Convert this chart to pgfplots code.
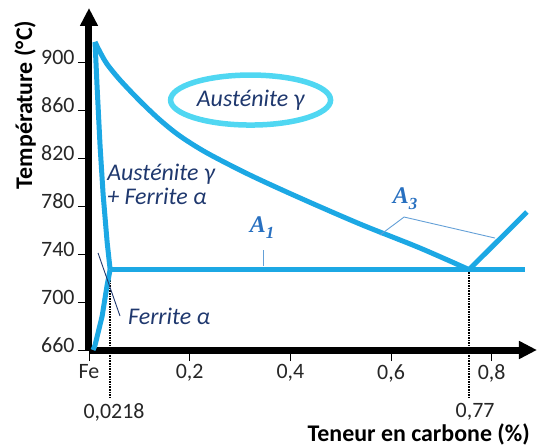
\documentclass[border=0pt]{standalone}
\usepackage{fontspec}
\setmainfont{Carlito}
\newfontfamily\serifA{Liberation Serif}
\usepackage{pgfplots}
\pgfplotsset{compat=1.18}
\usetikzlibrary{arrows.meta}
\definecolor{cur}{RGB}{28,168,228}
\definecolor{ell}{RGB}{80,215,242}
\definecolor{navy}{RGB}{31,56,110}
\definecolor{ablue}{RGB}{40,112,192}
\definecolor{ptr}{RGB}{100,160,215}
\begin{document}
\begin{tikzpicture}
\begin{axis}[
  scale only axis, width=448bp, height=342bp,
  xmin=0, xmax=0.89, ymin=660, ymax=945,
  axis lines=left,
  axis line style={line width=7bp, black, -{Triangle[width=17bp,length=18bp]}},
  clip=false,
  tick align=outside, major tick length=11bp,
  tick style={line width=0.8bp, black},
  xtick={0,0.2,0.4,0.6,0.8},
  xticklabels={Fe,{0,2},{0,4},{0,6},{0,8}},
  ytick={660,700,740,780,820,860,900},
  yticklabels={660,700,740,780,820,860,900},
  ticklabel style={font=\fontsize{22}{26}\selectfont, text=black!85},
  yticklabel style={yshift=5bp},
]
\coordinate (O) at (axis cs:0,660);
% dotted reference lines
\addplot[black, line width=1.6bp, densely dotted] coordinates {(0.042,727) (0.042,620)};
\addplot[black, line width=1.6bp, densely dotted] coordinates {(0.755,727) (0.755,620)};
% A1 line
\addplot[cur, line width=5bp] coordinates {(0.042,727) (0.866,727)};
% A3 curve
\addplot[cur, line width=5bp, smooth, line join=round] coordinates {
 (0.0119,916.7) (0.0219,908.3) (0.0358,898.3) (0.0616,885) (0.1013,867.5)
 (0.141,851.7) (0.1808,838.3) (0.2344,824.2) (0.3198,805.8) (0.4192,786.7)
 (0.5383,765) (0.6575,745) (0.755,727)};
% left branch alpha+gamma / gamma
\addplot[cur, line width=5bp, line join=round] coordinates {
 (0.012,916.7) (0.016,880) (0.022,830) (0.028,790) (0.036,750) (0.042,727)};
% ferrite solvus
\addplot[cur, line width=5bp, line join=round] coordinates {
 (0.042,727) (0.036,714) (0.026,688) (0.012,664) (0.008,660)};
% Acm line
\addplot[cur, line width=5bp] coordinates {(0.755,727) (0.870,775)};
% ellipse + labels
\draw[ell, line width=5.5bp] (axis cs:0.321,868.3) ellipse [x radius=80bp, y radius=25bp];
\node[text=navy, font=\fontsize{24}{29}\selectfont\itshape] at (axis cs:0.321,868.3) {Austénite γ};
\node[text=navy, font=\fontsize{24}{25}\selectfont\itshape, anchor=west, align=left, inner sep=0pt] at (axis cs:0.036,798) {Austénite γ\\+ Ferrite α};
\node[text=navy, font=\fontsize{24}{29}\selectfont\itshape, anchor=west, inner sep=0pt] at (axis cs:0.0775,688.3) {Ferrite α};
\draw[navy, line width=0.9bp] (axis cs:0.018,740.8) -- (axis cs:0.0616,688.3);
% A labels
\node[text=ablue, font=\fontsize{24}{29}\selectfont\serifA\bfseries\itshape] at (axis cs:0.344,761.7) {A\raisebox{-0.25em}{\fontsize{17}{20}\selectfont 1}};
\draw[ptr, line width=0.9bp] (axis cs:0.3457,743.3) -- (axis cs:0.3457,730);
\node[text=ablue, font=\fontsize{24}{29}\selectfont\serifA\bfseries\itshape] at (axis cs:0.628,786) {A\raisebox{-0.25em}{\fontsize{17}{20}\selectfont 3}};
\draw[ptr, line width=0.9bp] (axis cs:0.578,755.8) -- (axis cs:0.626,770.8) -- (axis cs:0.8065,753.3);
% special tick labels
\node[font=\fontsize{22}{26}\selectfont, text=black!85] at (axis cs:0.0497,608.3) {0,0218};
\node[font=\fontsize{22}{26}\selectfont, text=black!85] at (axis cs:0.767,608.3) {0,77};
% axis titles
\node[font=\fontsize{24}{29}\selectfont\bfseries] at (axis cs:0.655,590) {Teneur en carbone (\%)};
\node[font=\fontsize{24}{29}\selectfont\bfseries, rotate=90] at (axis cs:-0.127,864.2) {Température (°C)};
\end{axis}
\pgfresetboundingbox
\path (O) ++(-89bp,-98bp) rectangle ++(539bp,448bp);
\end{tikzpicture}
\end{document}
